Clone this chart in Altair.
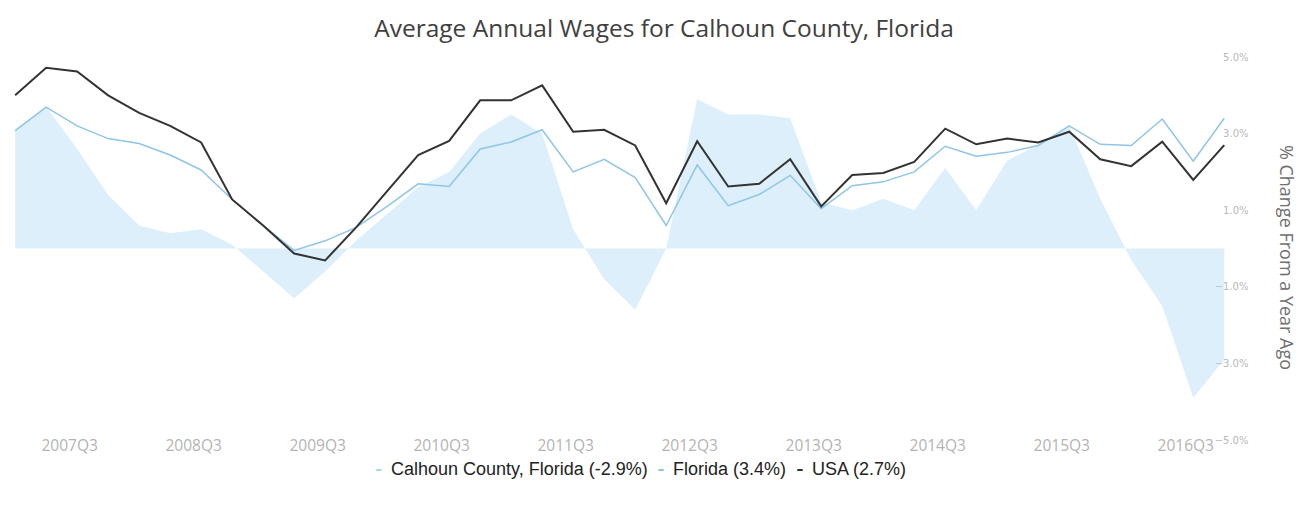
import altair as alt
import pandas as pd

# Quarterly series, 2007Q1 .. 2016Q4 (percent change from a year ago)
years = list(range(2007, 2017))
quarters = [f"{y}Q{q}" for y in years for q in (1, 2, 3, 4)]

calhoun = [3.1, 3.7, 2.6, 1.4, 0.6, 0.4, 0.5, 0.1, -0.6, -1.3,
           -0.6, 0.2, 0.9, 1.6, 2.0, 3.0, 3.5, 3.0, 0.5, -0.8,
           -1.6, 0.0, 3.9, 3.5, 3.5, 3.4, 1.2, 1.0, 1.3, 1.0,
           2.1, 1.0, 2.3, 2.7, 3.2, 1.3, -0.3, -1.5, -3.9, -2.9]
florida = [3.08, 3.69, 3.2, 2.87, 2.74, 2.44, 2.05, 1.28, 0.6, -0.05,
           0.2, 0.55, 1.1, 1.69, 1.62, 2.6, 2.78, 3.1, 2.0, 2.33,
           1.85, 0.6, 2.18, 1.12, 1.41, 1.91, 1.04, 1.64, 1.74, 2.0,
           2.67, 2.41, 2.51, 2.69, 3.2, 2.72, 2.69, 3.38, 2.28, 3.4]
usa = [4.0, 4.72, 4.62, 4.0, 3.54, 3.2, 2.77, 1.28, 0.6, -0.13,
       -0.31, 0.55, 1.5, 2.44, 2.81, 3.87, 3.87, 4.26, 3.05, 3.1,
       2.69, 1.18, 2.8, 1.62, 1.69, 2.33, 1.1, 1.92, 1.97, 2.26,
       3.13, 2.72, 2.87, 2.77, 3.05, 2.33, 2.15, 2.79, 1.79, 2.7]

series_names = ["Calhoun County, Florida (-2.9%)", "Florida (3.4%)", "USA (2.7%)"]
series_colors = ["#a8d8f2", "#8ec5e8", "#333333"]
y_ticks = [5, 3, 1, -1, -3, -5]
x_tick_labels = [f"{y}Q3" for y in years]
x_tick_pos = [quarters.index(q) for q in x_tick_labels]

rows = []
for name, vals in zip(series_names, [calhoun, florida, usa]):
    for i, (q, v) in enumerate(zip(quarters, vals)):
        rows.append({"i": i, "quarter": q, "series": name, "v": v})
df = pd.DataFrame(rows)

label_expr = "toString(2007 + floor(datum.value / 4)) + 'Q3'"

x = alt.X("i:Q",
          scale=alt.Scale(domain=[-0.23, 39.25], nice=False, zero=False),
          axis=alt.Axis(values=x_tick_pos, labelExpr=label_expr, title=None,
                        grid=False, domain=False, ticks=False,
                        labelColor="#b4b4b4", labelFont="Open Sans",
                        labelFontSize=15.5, labelPadding=-2, labelOffset=-8))
y = alt.Y("v:Q", stack=None,
          scale=alt.Scale(domain=[-5, 5], nice=False, zero=False),
          axis=alt.Axis(orient="right", values=y_ticks,
                        labelExpr="format(datum.value, '.1f') + '%'",
                        grid=False, domain=False, ticks=False,
                        labelColor="#b8b8b8", labelFont="DejaVu Sans",
                        labelFontSize=10, labelAlign="right", labelPadding=16,
                        title="% Change From a Year Ago", titleColor="#707070",
                        titleFont="Open Sans", titleFontSize=18,
                        titleFontWeight="normal", titleAngle=90,
                        titleX=52, titleY=200, titleAlign="center",
                        titleBaseline="middle"))
color = alt.Color("series:N",
                  scale=alt.Scale(domain=series_names, range=series_colors),
                  legend=alt.Legend(title=None, orient="none", legendX=362,
                                    legendY=404, direction="horizontal",
                                    symbolType="stroke", symbolStrokeWidth=2,
                                    symbolSize=30, symbolOpacity=1,
                                    labelFont="Liberation Sans",
                                    labelFontSize=18, labelColor="#222222",
                                    labelLimit=500, columnPadding=4,
                                    labelOffset=3, padding=0))

base = alt.Chart(df)
area = base.transform_filter(alt.datum.series == series_names[0]).mark_area(
    opacity=0.4).encode(x=x, y=y, color=color)
fl = base.transform_filter(alt.datum.series == series_names[1]).mark_line(
    strokeWidth=1.5).encode(x=x, y=y, color=color)
us = base.transform_filter(alt.datum.series == series_names[2]).mark_line(
    strokeWidth=2).encode(x=x, y=y, color=color)

chart = alt.layer(area, fl, us).properties(
    width=1224, height=383,
    title=alt.TitleParams("Average Annual Wages for Calhoun County, Florida",
                          anchor="middle", frame="group", dx=44, dy=30,
                          offset=21, baseline="alphabetic", font="Open Sans",
                          fontSize=24.5, fontWeight="normal", color="#404040"),
    autosize=alt.AutoSizeParams(type="none"),
    padding={"left": 0, "top": 49, "right": 66, "bottom": 50},
).configure_view(stroke=None)

chart.save("out.html", embed_options={"renderer": "svg", "actions": False})
